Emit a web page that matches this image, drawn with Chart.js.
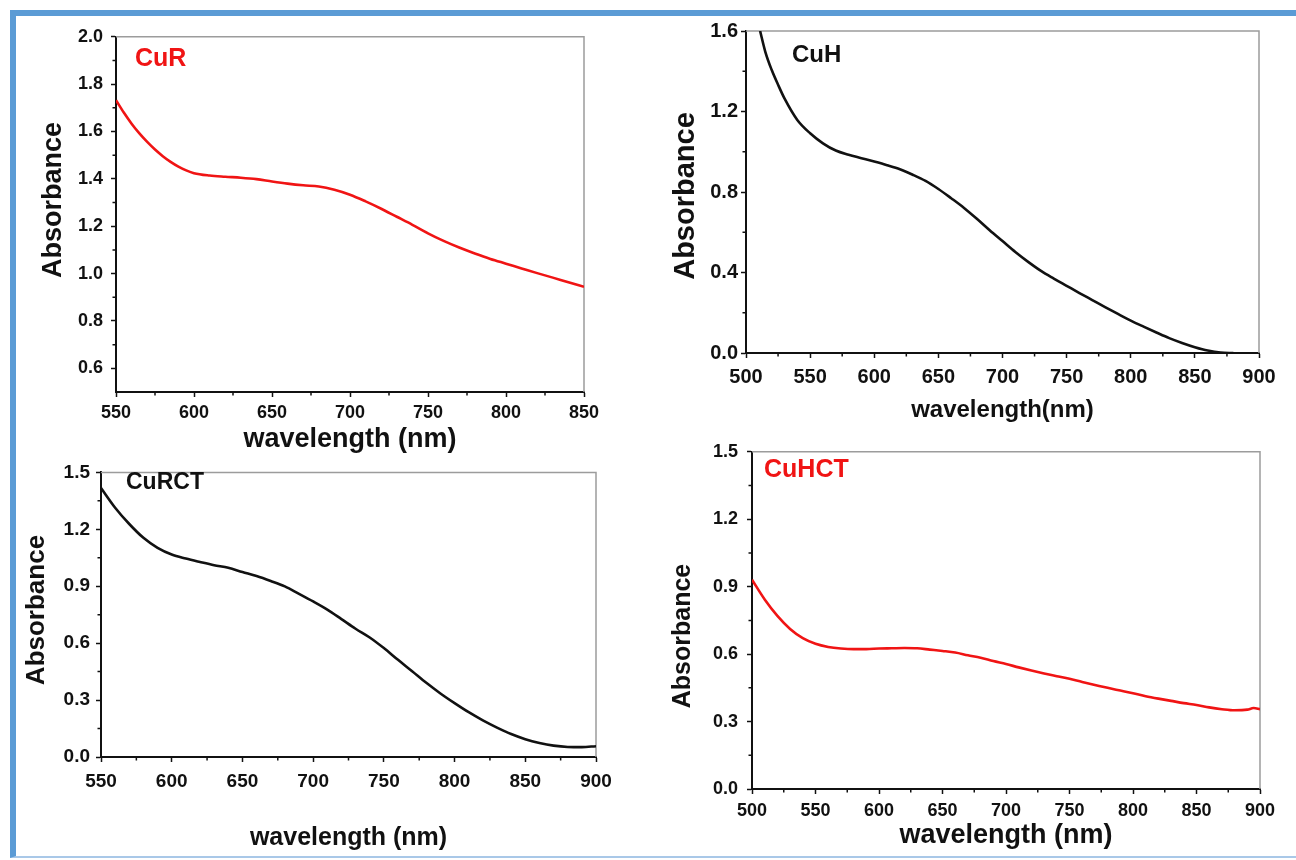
<!DOCTYPE html>
<html>
<head>
<meta charset="utf-8">
<script src="https://cdn.jsdelivr.net/npm/chart.js@4.4.1/dist/chart.umd.min.js"></script>
<style>
  html, body { margin: 0; padding: 0; background: #fff; width: 1296px; height: 860px; overflow: hidden; position: relative; }
  .frame { position: absolute; left: 10px; top: 10px; width: 1310px; height: 840px;
           border-top: 6px solid #5b9bd5; border-left: 6px solid #5b9bd5; border-bottom: 2px solid #a9c8e8; }
  canvas { position: absolute; }
</style>
</head>
<body>
<div class="frame"></div>
<canvas id="cur"></canvas>
<canvas id="cuh"></canvas>
<canvas id="curct"></canvas>
<canvas id="cuhct"></canvas>
<script>
// ---- CuR (red, top left)
const curWl  = [550, 555, 560, 565, 570, 575, 580, 585, 590, 595, 600, 610, 620, 630, 640, 650, 660, 670, 680, 690, 700, 710, 720, 730, 740, 750, 760, 770, 780, 790, 800, 810, 820, 830, 840, 850];
const curAbs = [1.732, 1.68, 1.633, 1.592, 1.556, 1.524, 1.496, 1.472, 1.452, 1.436, 1.424, 1.414, 1.409, 1.405, 1.399, 1.389, 1.380, 1.373, 1.368, 1.354, 1.333, 1.305, 1.274, 1.240, 1.206, 1.170, 1.138, 1.110, 1.085, 1.062, 1.042, 1.022, 1.002, 0.983, 0.963, 0.944];
const curXTicks = [550, 600, 650, 700, 750, 800, 850];
const curXMinor = [575, 625, 675, 725, 775, 825];
const curYTicks = [0.6, 0.8, 1.0, 1.2, 1.4, 1.6, 1.8, 2.0];
const curYMinor = [0.7, 0.9, 1.1, 1.3, 1.5, 1.7, 1.9];

// ---- CuH (black, top right)
const cuhWl  = [511, 515, 520, 525, 530, 540, 550, 560, 570, 580, 590, 600, 610, 620, 630, 640, 650, 660, 670, 680, 690, 700, 710, 720, 730, 740, 750, 760, 770, 780, 790, 800, 810, 820, 830, 840, 850, 860, 870, 880];
const cuhAbs = [1.6, 1.498, 1.407, 1.333, 1.265, 1.158, 1.092, 1.042, 1.006, 0.985, 0.968, 0.951, 0.933, 0.913, 0.886, 0.855, 0.815, 0.769, 0.721, 0.667, 0.610, 0.556, 0.502, 0.453, 0.408, 0.370, 0.334, 0.298, 0.263, 0.228, 0.194, 0.161, 0.131, 0.102, 0.074, 0.050, 0.029, 0.012, 0.002, 0];
const cuhXTicks = [500, 550, 600, 650, 700, 750, 800, 850, 900];
const cuhXMinor = [525, 575, 625, 675, 725, 775, 825, 875];
const cuhYTicks = [0.0, 0.4, 0.8, 1.2, 1.6];
const cuhYMinor = [0.2, 0.6, 1.0, 1.4];

// ---- CuRCT (black, bottom left)
const curctWl  = [550, 560, 570, 580, 590, 600, 610, 620, 630, 640, 650, 660, 670, 680, 690, 700, 710, 720, 730, 740, 750, 760, 770, 780, 790, 800, 810, 820, 830, 840, 850, 860, 870, 880, 890, 900];
const curctAbs = [1.418, 1.314, 1.228, 1.155, 1.102, 1.067, 1.046, 1.028, 1.011, 0.997, 0.975, 0.954, 0.928, 0.899, 0.860, 0.820, 0.777, 0.727, 0.676, 0.630, 0.574, 0.512, 0.452, 0.391, 0.335, 0.284, 0.236, 0.193, 0.155, 0.121, 0.094, 0.074, 0.060, 0.053, 0.052, 0.057];
const curctXTicks = [550, 600, 650, 700, 750, 800, 850, 900];
const curctXMinor = [575, 625, 675, 725, 775, 825, 875];
const curctYTicks = [0.0, 0.3, 0.6, 0.9, 1.2, 1.5];
const curctYMinor = [0.15, 0.45, 0.75, 1.05, 1.35];

// ---- CuHCT (red, bottom right)
const cuhctWl  = [500, 510, 520, 530, 540, 550, 560, 570, 580, 590, 600, 610, 620, 630, 640, 650, 660, 670, 680, 690, 700, 710, 720, 730, 740, 750, 760, 770, 780, 790, 800, 810, 820, 830, 840, 850, 860, 870, 880, 890, 895, 900];
const cuhctAbs = [0.931, 0.843, 0.770, 0.712, 0.671, 0.646, 0.632, 0.625, 0.622, 0.622, 0.625, 0.626, 0.627, 0.626, 0.620, 0.614, 0.607, 0.595, 0.584, 0.569, 0.556, 0.541, 0.527, 0.514, 0.502, 0.490, 0.476, 0.463, 0.450, 0.438, 0.426, 0.413, 0.402, 0.392, 0.382, 0.374, 0.363, 0.355, 0.350, 0.353, 0.360, 0.355];
const cuhctXTicks = [500, 550, 600, 650, 700, 750, 800, 850, 900];
const cuhctXMinor = [525, 575, 625, 675, 725, 775, 825, 875];
const cuhctYTicks = [0.0, 0.3, 0.6, 0.9, 1.2, 1.5];
const cuhctYMinor = [0.15, 0.45, 0.75, 1.05, 1.35];

const FAM = "'Liberation Sans', Arial, Helvetica, sans-serif";
const INK = "#111";
const RED = "#f01414";

function panel(id, c) {
  const [bx, by, bw, bh] = c.box;
  const cv = document.getElementById(id);
  cv.width = bw; cv.height = bh;
  cv.style.left = bx + "px"; cv.style.top = by + "px";
  const [L, T, R, B] = c.area;

  const deco = {
    id: "deco",
    beforeDatasetsDraw(chart) {
      const { ctx, chartArea: a } = chart;
      ctx.save();
      ctx.strokeStyle = "#9c9c9c"; ctx.lineWidth = 1.5;
      ctx.beginPath(); ctx.moveTo(a.left, a.top); ctx.lineTo(a.right, a.top); ctx.lineTo(a.right, a.bottom); ctx.stroke();
      ctx.restore();
    },
    afterDraw(chart) {
      const { ctx, chartArea: a, scales: { x, y } } = chart;
      ctx.save();
      ctx.strokeStyle = INK; ctx.lineWidth = 1.5;
      ctx.beginPath();
      c.xMinor.forEach(v => { const px = x.getPixelForValue(v); ctx.moveTo(px, a.bottom); ctx.lineTo(px, a.bottom + 3.5); });
      c.yMinor.forEach(v => { const py = y.getPixelForValue(v); ctx.moveTo(a.left, py); ctx.lineTo(a.left - 3.5, py); });
      ctx.stroke();
      // y axis title
      ctx.fillStyle = INK;
      ctx.font = `bold ${c.yTitleSize}px ${FAM}`;
      ctx.textAlign = "center"; ctx.textBaseline = "middle";
      ctx.translate(c.yTitleAt[0] - bx, c.yTitleAt[1] - by);
      ctx.rotate(-Math.PI / 2);
      ctx.fillText("Absorbance", 0, 0);
      ctx.restore();
      // sample name
      ctx.save();
      ctx.fillStyle = c.color;
      ctx.font = `bold ${c.nameSize}px ${FAM}`;
      ctx.textAlign = "left"; ctx.textBaseline = "middle";
      ctx.fillText(c.name, c.nameAt[0] - bx, c.nameAt[1] - by);
      ctx.restore();
    },
  };

  const tickFont = { family: FAM, weight: "bold", size: c.tickSize };
  const xtLH = c.xTitleSize * 1.2;

  return new Chart(cv, {
    type: "line",
    data: {
      datasets: [{
        data: c.wl.map((w, i) => ({ x: w, y: c.abs[i] })),
        borderColor: c.color, borderWidth: 2.6, pointRadius: 0,
        cubicInterpolationMode: "monotone", fill: false,
      }],
    },
    options: {
      responsive: false, animation: false, devicePixelRatio: 1,
      layout: { padding: { left: 0, top: T - by, right: bx + bw - R, bottom: 0 } },
      plugins: { legend: { display: false }, tooltip: { enabled: false } },
      scales: {
        x: {
          type: "linear", min: c.xMin, max: c.xMax,
          afterBuildTicks: s => { s.ticks = c.xTicks.map(v => ({ value: v })); },
          afterFit: s => { s.height = by + bh - B; },
          ticks: { font: tickFont, color: INK, padding: c.xPad, maxRotation: 0, autoSkip: false },
          grid: { drawOnChartArea: false, drawTicks: true, tickLength: 5, tickWidth: 1.5, tickColor: INK },
          border: { color: INK, width: 2 },
          title: { display: true, text: c.xTitle, color: INK,
                   font: { family: FAM, weight: "bold", size: c.xTitleSize },
                   padding: { top: 0, bottom: (by + bh) - c.xTitleY - xtLH / 2 } },
        },
        y: {
          type: "linear", min: c.yMin, max: c.yMax,
          afterBuildTicks: s => { s.ticks = c.yTicks.map(v => ({ value: v })); },
          afterFit: s => { s.width = L - bx; },
          ticks: { font: tickFont, color: INK, padding: c.yPad, autoSkip: false, callback: v => v.toFixed(1) },
          grid: { drawOnChartArea: false, drawTicks: true, tickLength: 5, tickWidth: 1.5, tickColor: INK },
          border: { color: INK, width: 2 },
        },
      },
    },
    plugins: [deco],
  });
}

panel("cur", {
  box: [20, 18, 600, 440], area: [116, 31, 584, 392],
  wl: curWl, abs: curAbs, color: RED,
  xMin: 550, xMax: 850, yMin: 0.5, yMax: 2.0,
  xTicks: curXTicks, xMinor: curXMinor, yTicks: curYTicks, yMinor: curYMinor,
  tickSize: 18, xPad: 5, yPad: 8,
  xTitle: "wavelength (nm)", xTitleSize: 27, xTitleY: 440,
  yTitleSize: 27, yTitleAt: [54, 200],
  name: "CuR", nameSize: 25, nameAt: [135, 59],
});

panel("cuh", {
  box: [660, 16, 636, 424], area: [746, 29, 1259, 353],
  wl: cuhWl, abs: cuhAbs, color: INK,
  xMin: 500, xMax: 900, yMin: 0, yMax: 1.6,
  xTicks: cuhXTicks, xMinor: cuhXMinor, yTicks: cuhYTicks, yMinor: cuhYMinor,
  tickSize: 20, xPad: 7, yPad: 3,
  xTitle: "wavelength(nm)", xTitleSize: 24, xTitleY: 410,
  yTitleSize: 29, yTitleAt: [686, 196],
  name: "CuH", nameSize: 24, nameAt: [792, 55],
});

panel("curct", {
  box: [16, 455, 620, 400], area: [101, 467, 596, 757],
  wl: curctWl, abs: curctAbs, color: INK,
  xMin: 550, xMax: 900, yMin: 0, yMax: 1.5,
  xTicks: curctXTicks, xMinor: curctXMinor, yTicks: curctYTicks, yMinor: curctYMinor,
  tickSize: 19, xPad: 8, yPad: 6,
  xTitle: "wavelength (nm)", xTitleSize: 25, xTitleY: 838,
  yTitleSize: 26, yTitleAt: [37, 610],
  name: "CuRCT", nameSize: 23, nameAt: [126, 483],
});

panel("cuhct", {
  box: [660, 432, 636, 423], area: [752, 447, 1260, 789],
  wl: cuhctWl, abs: cuhctAbs, color: RED,
  xMin: 500, xMax: 900, yMin: 0, yMax: 1.5,
  xTicks: cuhctXTicks, xMinor: cuhctXMinor, yTicks: cuhctYTicks, yMinor: cuhctYMinor,
  tickSize: 18, xPad: 6, yPad: 9,
  xTitle: "wavelength (nm)", xTitleSize: 27, xTitleY: 836,
  yTitleSize: 25, yTitleAt: [683, 636],
  name: "CuHCT", nameSize: 25, nameAt: [764, 470],
});
</script>
</body>
</html>
